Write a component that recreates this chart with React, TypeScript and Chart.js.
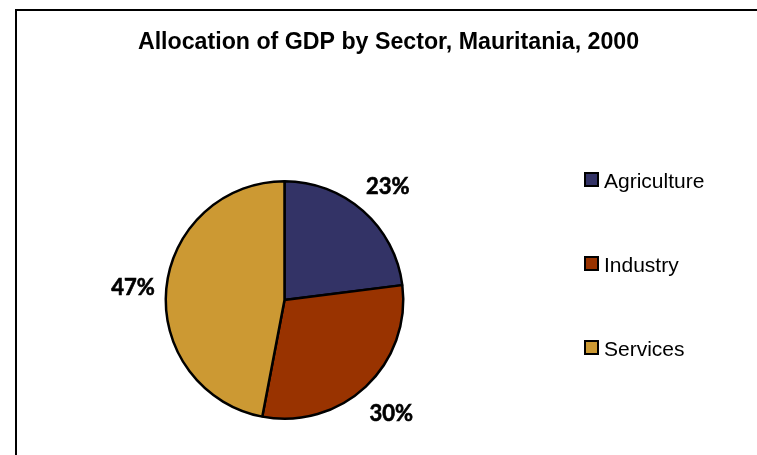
import React, { useEffect, useRef } from "react";
import { Chart, registerables } from "chart.js";

Chart.register(...registerables);

const TITLE = "Allocation of GDP by Sector, Mauritania, 2000";
const categories = ["Agriculture", "Industry", "Services"];
const shares = [23, 30, 47];
const colors = ["#333366", "#993300", "#CC9933"];

const overlayPlugin = {
  id: "overlay",
  afterDraw(chart: any) {
    const ctx = chart.ctx as CanvasRenderingContext2D;
    ctx.save();
    // title
    ctx.fillStyle = "#000";
    ctx.font = "bold 23.2px 'Liberation Sans', Arial, sans-serif";
    ctx.textAlign = "center";
    ctx.textBaseline = "alphabetic";
    ctx.fillText(TITLE, 388.5, 49);

    // percentage labels outside slices
    const meta = chart.getDatasetMeta(0);
    const total = shares.reduce((a, b) => a + b, 0);
    ctx.font = "bold 22px Lato, 'Open Sans', sans-serif";
    ctx.textBaseline = "middle";
    ctx.strokeStyle = "#000";
    ctx.lineWidth = 0.6;
    meta.data.forEach((arc: any, i: number) => {
      const p = arc.getProps(["x", "y", "startAngle", "endAngle", "outerRadius"], true);
      const mid = (p.startAngle + p.endAngle) / 2;
      const d = p.outerRadius + 35;
      const pct = Math.round((shares[i] / total) * 100);
      const tx = p.x + Math.cos(mid) * d + 1.5;
      const ty = p.y + Math.sin(mid) * d + 2;
      ctx.fillText(pct + "%", tx, ty);
      ctx.strokeText(pct + "%", tx, ty);
    });

    // legend
    ctx.textAlign = "left";
    ctx.textBaseline = "alphabetic";
    ctx.font = "21px 'Liberation Sans', Arial, sans-serif";
    categories.forEach((name, i) => {
      const base = 188 + i * 84;
      ctx.fillStyle = colors[i];
      ctx.fillRect(585, base - 15, 13, 13);
      ctx.strokeStyle = "#000";
      ctx.lineWidth = 2;
      ctx.strokeRect(585, base - 15, 13, 13);
      ctx.fillStyle = "#000";
      ctx.fillText(name, 604, base);
    });
    ctx.restore();
  },
};

export default function App() {
  const canvasRef = useRef<HTMLCanvasElement | null>(null);

  useEffect(() => {
    const canvas = canvasRef.current;
    if (!canvas) return;
    const chart = new Chart(canvas, {
      type: "pie",
      data: {
        labels: categories,
        datasets: [
          {
            data: shares,
            backgroundColor: colors,
            borderColor: "#000000",
            borderWidth: 2.5,
            hoverBorderWidth: 2.5,
          },
        ],
      },
      options: {
        responsive: false,
        animation: false,
        devicePixelRatio: 1,
        layout: { padding: { left: 164, right: 352, top: 180, bottom: 35 } },
        plugins: {
          legend: { display: false },
          title: { display: false },
          tooltip: { enabled: false },
        },
        events: [],
      },
      plugins: [overlayPlugin],
    });
    return () => chart.destroy();
  }, []);

  return (
    <div style={{ position: "fixed", left: 0, top: 0, width: 757, height: 455, overflow: "hidden", background: "#fff" }}>
      <canvas
        ref={canvasRef}
        width={757}
        height={455}
        style={{ position: "absolute", left: 0, top: 0, width: 757, height: 455, display: "block" }}
      />
      <div
        style={{
          position: "absolute",
          left: 15,
          top: 9,
          width: 800,
          height: 500,
          border: "2px solid #000",
          boxSizing: "border-box",
          pointerEvents: "none",
        }}
      />
    </div>
  );
}
